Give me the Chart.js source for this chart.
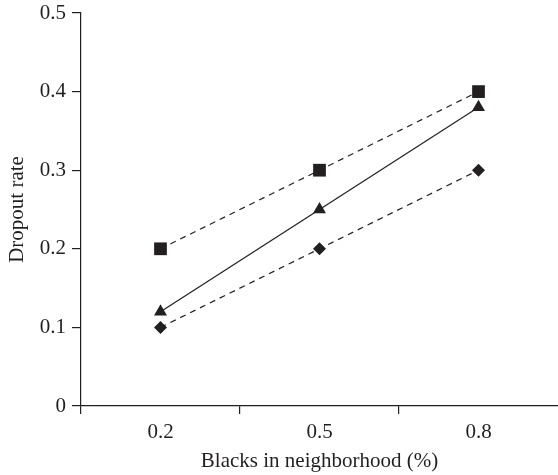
<!DOCTYPE html>
<html>
<head>
<meta charset="utf-8">
<script src="https://cdn.jsdelivr.net/npm/chart.js@4/dist/chart.umd.min.js"></script>
<style>
  html, body { margin: 0; padding: 0; background: #fff; }
  #wrap { width: 558px; height: 475px; }
</style>
</head>
<body>
<div id="wrap"><canvas id="c" width="558" height="475"></canvas></div>
<script>
// Share of Black residents in the neighborhood (x categories)
const categories = ['0.2', '0.5', '0.8'];
// Dropout rate for each of the three groups
const squareSeries = [0.2, 0.3, 0.4];
const triangleSeries = [0.12, 0.25, 0.38];
const diamondSeries = [0.1, 0.2, 0.3];
// Y axis ticks
const yTicks = [0, 0.1, 0.2, 0.3, 0.4, 0.5];

const ink = '#231f20';
const font = { family: '"Liberation Serif", "Times New Roman", serif', size: 21 };

function series(data, style, radius, dashed) {
  return {
    data,
    borderColor: ink,
    backgroundColor: ink,
    borderWidth: 1.2,
    borderDash: dashed ? [6, 5] : [],
    pointStyle: style,
    pointRadius: radius,
    pointHoverRadius: radius,
    pointBorderWidth: 0,
    pointBackgroundColor: ink,
    tension: 0,
    fill: false
  };
}

new Chart(document.getElementById('c'), {
  type: 'line',
  data: {
    labels: categories,
    datasets: [
      series(squareSeries, 'rect', 9, true),
      series(triangleSeries, 'triangle', 7.5, false),
      series(diamondSeries, 'rectRot', 6.5, true)
    ]
  },
  options: {
    responsive: false,
    animation: false,
    layout: { autoPadding: false, padding: { top: 13, right: 0, left: 0, bottom: 0 } },
    plugins: { legend: { display: false }, tooltip: { enabled: false } },
    scales: {
      x: {
        type: 'category',
        offset: true,
        grid: {
          offset: true,
          drawOnChartArea: false,
          drawTicks: true,
          tickLength: 8,
          // the closing boundary line has no tick of its own and is left out
          color: ctx => (ctx.type === 'tick' && ctx.index < categories.length ? ink : 'rgba(0,0,0,0)'),
          lineWidth: 1.2
        },
        border: { display: true, color: ink, width: 1.2 },
        ticks: { color: ink, font, padding: 6, maxRotation: 0 },
        title: { display: true, text: 'Blacks in neighborhood (%)', color: ink, font, padding: { top: 0, bottom: 1 } },
        afterFit(scale) {
          scale.height = 69;
          scale.paddingLeft = 0;
          scale.paddingRight = 0;
        }
      },
      y: {
        min: 0,
        max: 0.5,
        afterBuildTicks(scale) { scale.ticks = yTicks.map(v => ({ value: v })); },
        grid: { drawOnChartArea: false, drawTicks: true, tickLength: 9, color: ink, lineWidth: 1.2 },
        border: { display: true, color: ink, width: 1.2 },
        ticks: {
          color: ink, font, padding: 6,
          callback: v => (v === 0 ? '0' : v.toFixed(1))
        },
        title: { display: true, text: 'Dropout rate', color: ink, font, padding: { top: 5, bottom: 0 } },
        afterFit(scale) {
          scale.width = 81;
          scale.paddingTop = 0;
          scale.paddingBottom = 0;
        }
      }
    }
  }
});
</script>
</body>
</html>
